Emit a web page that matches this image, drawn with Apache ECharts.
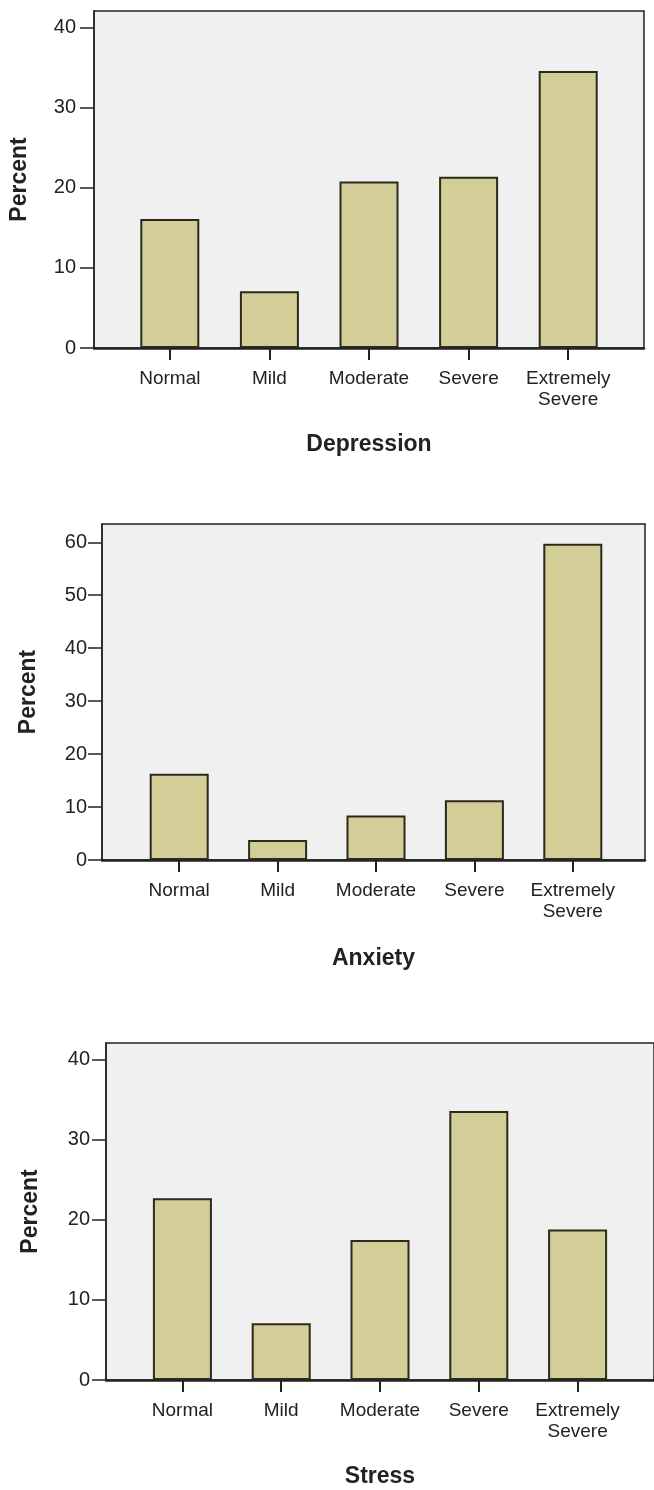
<!DOCTYPE html>
<html>
<head>
<meta charset="utf-8">
<script src="https://cdn.jsdelivr.net/npm/echarts@6/dist/echarts.min.js"></script>
<style>
  html, body { margin: 0; padding: 0; background: #fff; }
  #chart { width: 654px; height: 1490px; }
</style>
</head>
<body>
<div id="chart"></div>
<script>
const categories = ["Normal", "Mild", "Moderate", "Severe", "Extremely\nSevere"];

const depressionValues = [16.1, 7.1, 20.8, 21.4, 34.6];
const anxietyValues = [16.3, 3.8, 8.4, 11.3, 59.7];
const stressValues = [22.7, 7.1, 17.5, 33.6, 18.8];

const depressionTicks = [0, 10, 20, 30, 40];
const anxietyTicks = [0, 10, 20, 30, 40, 50, 60];
const stressTicks = [0, 10, 20, 30, 40];

const FONT = "'Liberation Sans', Arial, sans-serif";
const INK = "#222";

const grid = [];
const xAxis = [];
const yAxis = [];
const series = [];

// each panel: an outer frame grid (background, y axis, baseline) and an inner grid for the bars
function addPanel(p) {
	const frame = grid.length;
	const inner = frame + 1;
	grid.push({
		left: p.frame[0], top: p.frame[1], width: p.frame[2], height: p.frame[3],
		show: true, backgroundColor: "#f0f0f0", borderColor: INK, borderWidth: 1.5,
	});
	grid.push({
		left: p.bars[0], top: p.frame[1], width: p.bars[1], height: p.frame[3],
	});

	xAxis.push({
		gridIndex: frame, type: "value", min: 0, max: 1,
		axisLine: { show: true, lineStyle: { color: INK, width: 2.5 } },
		axisTick: { show: false }, axisLabel: { show: false }, splitLine: { show: false },
		name: p.name, nameLocation: "middle", nameGap: p.nameGap,
		nameTextStyle: { fontFamily: FONT, fontWeight: "bold", fontSize: 23, color: INK },
	});
	xAxis.push({
		gridIndex: inner, type: "category", data: categories,
		axisLine: { show: false },
		axisTick: { show: true, alignWithLabel: true, length: 12, lineStyle: { color: INK, width: 2 } },
		axisLabel: { interval: 0, margin: 20, fontSize: 19, lineHeight: 21, color: INK, fontFamily: FONT },
	});

	yAxis.push({
		gridIndex: frame, type: "value", min: 0, max: p.max,
		axisLine: { show: true, lineStyle: { color: INK, width: 1.5 } },
		axisTick: { show: true, length: 14, customValues: p.ticks, lineStyle: { color: INK, width: 1.5 } },
		axisLabel: { customValues: p.ticks, margin: p.labelMargin, fontSize: 20, color: INK, fontFamily: FONT },
		splitLine: { show: false },
		name: "Percent", nameLocation: "middle", nameGap: p.yNameGap,
		nameTextStyle: { fontFamily: FONT, fontWeight: "bold", fontSize: 23, color: INK },
	});
	yAxis.push({ gridIndex: inner, type: "value", min: 0, max: p.max, show: false });

	series.push({
		type: "bar", xAxisIndex: inner, yAxisIndex: inner,
		data: p.values, barWidth: 59,
		itemStyle: { color: "#d3ce97", borderColor: "#2b2a1c", borderWidth: 2 },
	});
}

addPanel({ name: "Depression", values: depressionValues, ticks: depressionTicks, max: 42.1,
	frame: [94, 11, 550, 337], bars: [120, 498], nameGap: 85, yNameGap: 63, labelMargin: 18 });
addPanel({ name: "Anxiety", values: anxietyValues, ticks: anxietyTicks, max: 63.45,
	frame: [102, 524, 543, 336], bars: [130, 492], nameGap: 87, yNameGap: 62, labelMargin: 15 });
addPanel({ name: "Stress", values: stressValues, ticks: stressTicks, max: 42.1,
	frame: [106, 1043, 556, 337], bars: [133, 494], nameGap: 85, yNameGap: 64, labelMargin: 16 });

const chart = echarts.init(document.getElementById("chart"));
chart.setOption({
	animation: false,
	textStyle: { fontFamily: FONT },
	grid, xAxis, yAxis, series,
});
</script>
</body>
</html>
